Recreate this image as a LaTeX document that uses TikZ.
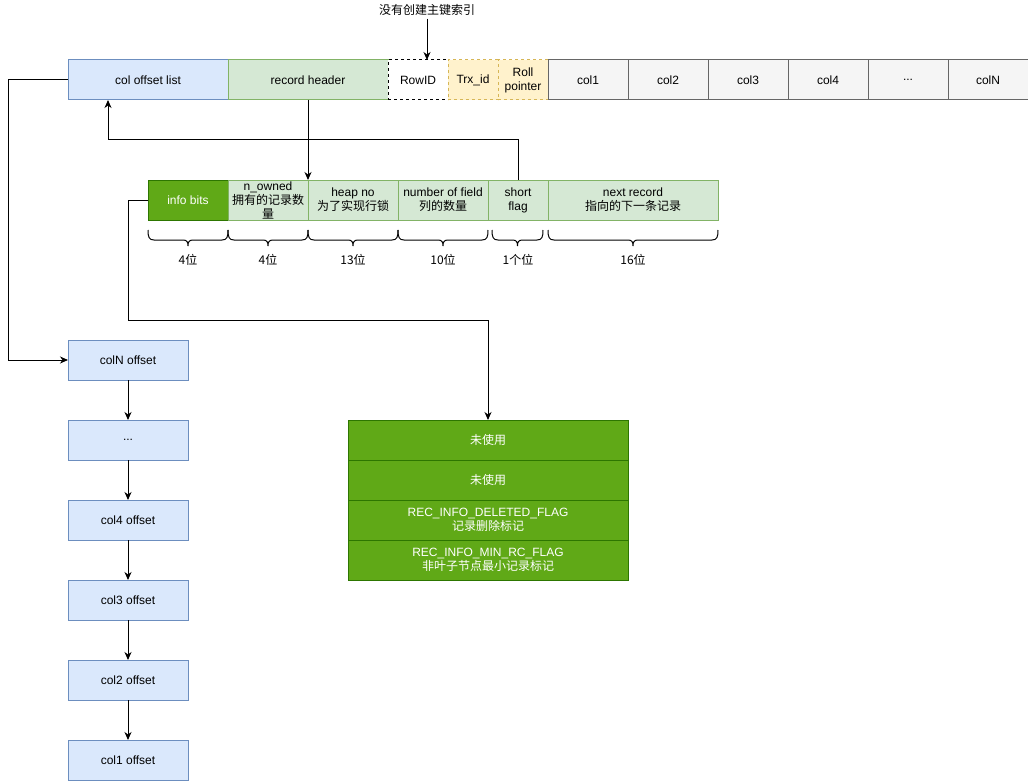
\documentclass[tikz,border=0pt]{standalone}
\usepackage{fontspec}
\setmainfont{Liberation Sans}
\newfontfamily\cjk{Noto Sans CJK SC}
\usetikzlibrary{arrows.meta,calc}

\definecolor{blueF}{HTML}{DAE8FC}
\definecolor{blueD}{HTML}{6C8EBF}
\definecolor{greenF}{HTML}{D5E8D4}
\definecolor{greenD}{HTML}{82B366}
\definecolor{darkF}{HTML}{60A917}
\definecolor{darkD}{HTML}{2D7600}
\definecolor{yellowF}{HTML}{FFF2CC}
\definecolor{yellowD}{HTML}{D6B656}
\definecolor{grayF}{HTML}{F5F5F5}
\definecolor{grayD}{HTML}{666666}

% flat curly brace opening upwards, between two points at the same height
\newcommand{\bitbrace}[2]{%
  \draw[line width=1pt] let \p1=(#1), \p2=(#2), \p3=($(#1)!0.5!(#2)$) in
    (\x1,\y1) .. controls (\x1,\y1-7pt) and (\x1+1pt,\y1-10pt) .. (\x1+6pt,\y1-10pt)
    -- (\x3-5pt,\y1-10pt) .. controls (\x3-1pt,\y1-10pt) and (\x3,\y1-12pt) .. (\x3,\y1-16pt)
    .. controls (\x3,\y1-12pt) and (\x3+1pt,\y1-10pt) .. (\x3+5pt,\y1-10pt)
    -- (\x2-6pt,\y1-10pt) .. controls (\x2-1pt,\y1-10pt) and (\x2,\y1-7pt) .. (\x2,\y1);}

\begin{document}
\begin{tikzpicture}[x=1pt,y=-1pt,
  every node/.style={font=\fontsize{12}{14}\selectfont, inner sep=0pt, outer sep=0pt},
  cell/.style={draw, line width=1pt, minimum height=40, align=center},
  bluebox/.style={cell, fill=blueF, draw=blueD},
  greenbox/.style={cell, fill=greenF, draw=greenD},
  darkbox/.style={cell, fill=darkF, draw=darkD, text=white},
  yellowbox/.style={cell, fill=yellowF, draw=yellowD, dashed},
  graybox/.style={cell, fill=grayF, draw=grayD},
  dashbox/.style={cell, fill=white, draw=black, dashed},
  arr/.style={-{Stealth[length=8pt,width=7pt,inset=2.5pt]}, line width=1pt},
]
\useasboundingbox (0,0) rectangle (1028,781);

% record row
\node[bluebox, minimum width=160] (col) at (148,80) {col offset list};
\node[greenbox, minimum width=160] (rh) at (308,80) {record header};
\node[dashbox, minimum width=60] (rowid) at (418,80) {RowID};
\node[yellowbox, minimum width=50] (trx) at (473,80) {Trx\_id};
\node[yellowbox, minimum width=50] (roll) at (523,80) {Roll\\pointer};
\node[graybox, minimum width=80] (c1) at (588,80) {col1};
\node[graybox, minimum width=80] (c2) at (668,80) {col2};
\node[graybox, minimum width=80] (c3) at (748,80) {col3};
\node[graybox, minimum width=80] (c4) at (828,80) {col4};
\node[graybox, minimum width=80] (cd) at (908,80) {...};
\node[graybox, minimum width=80] (cn) at (988,80) {colN};

\node (pk) at (427,10) {\cjk 没有创建主键索引};
\draw[arr] ([yshift=-3pt]pk.south) -- (pk.south |- rowid.north);

% record header fields
\node[darkbox, minimum width=80] (ib) at (188,200) {info bits};
\node[greenbox, minimum width=80] (ow) at (268,200) {n\_owned\\{\cjk 拥有的记录数}\\{\cjk 量}};
\node[greenbox, minimum width=90] (hn) at (353,200) {heap no\\{\cjk 为了实现行锁}};
\node[greenbox, minimum width=90] (nf) at (443,200) {number of field\\{\cjk 列的数量}};
\node[greenbox, minimum width=60] (sf) at (518,200) {short\\flag};
\node[greenbox, minimum width=170] (nr) at (633,200) {next record\\{\cjk 指向的下一条记录}};

\draw[arr] (rh.south) -- (ow.north east);

% bit widths
\bitbrace{[yshift=-10pt]ib.south west}{[yshift=-10pt]ib.south east}
\bitbrace{[yshift=-10pt]ow.south west}{[yshift=-10pt]ow.south east}
\bitbrace{[yshift=-10pt]hn.south west}{[yshift=-10pt]hn.south east}
\bitbrace{[yshift=-10pt]nf.south west}{[yshift=-10pt]nf.south east}
\bitbrace{[xshift=4pt,yshift=-10pt]sf.south west}{[xshift=-5pt,yshift=-10pt]sf.south east}
\bitbrace{[yshift=-10pt]nr.south west}{[yshift=-10pt]nr.south east}

\node (b1) at (188,260) {\cjk 4位};
\node (b2) at (268,260) {\cjk 4位};
\node (b3) at (353,260) {\cjk 13位};
\node (b4) at (443,260) {\cjk 10位};
\node (b5) at (518,260) {\cjk 1个位};
\node (b6) at (633,260) {\cjk 16位};

% short flag back to the offset list
\coordinate (jA) at (108,140);
\draw[arr] (sf.north) |- (jA) -- (jA |- col.south);

% info bits detail
\node[darkbox, minimum width=280] (r1) at (488,440) {\cjk 未使用};
\node[darkbox, minimum width=280] (r2) at (488,480) {\cjk 未使用};
\node[darkbox, minimum width=280] (r3) at (488,520) {REC\_INFO\_DELETED\_FLAG\\{\cjk 记录删除标记}};
\node[darkbox, minimum width=280] (r4) at (488,560) {REC\_INFO\_MIN\_RC\_FLAG\\{\cjk 非叶子节点最小记录标记}};

\coordinate (jB) at (128,320);
\draw[arr] (ib.west) -| (jB) -| (r1.north);

% column offsets
\node[bluebox, minimum width=120] (oN) at (128,360) {colN offset};
\node[bluebox, minimum width=120] (oD) at (128,440) {...};
\node[bluebox, minimum width=120] (o4) at (128,520) {col4 offset};
\node[bluebox, minimum width=120] (o3) at (128,600) {col3 offset};
\node[bluebox, minimum width=120] (o2) at (128,680) {col2 offset};
\node[bluebox, minimum width=120] (o1) at (128,760) {col1 offset};

\coordinate (jC) at (8,360);
\draw[arr] (col.west) -| (jC) -- (oN.west);
\draw[arr] (oN.south) -- (oD.north);
\draw[arr] (oD.south) -- (o4.north);
\draw[arr] (o4.south) -- (o3.north);
\draw[arr] (o3.south) -- (o2.north);
\draw[arr] (o2.south) -- (o1.north);
\end{tikzpicture}
\end{document}
